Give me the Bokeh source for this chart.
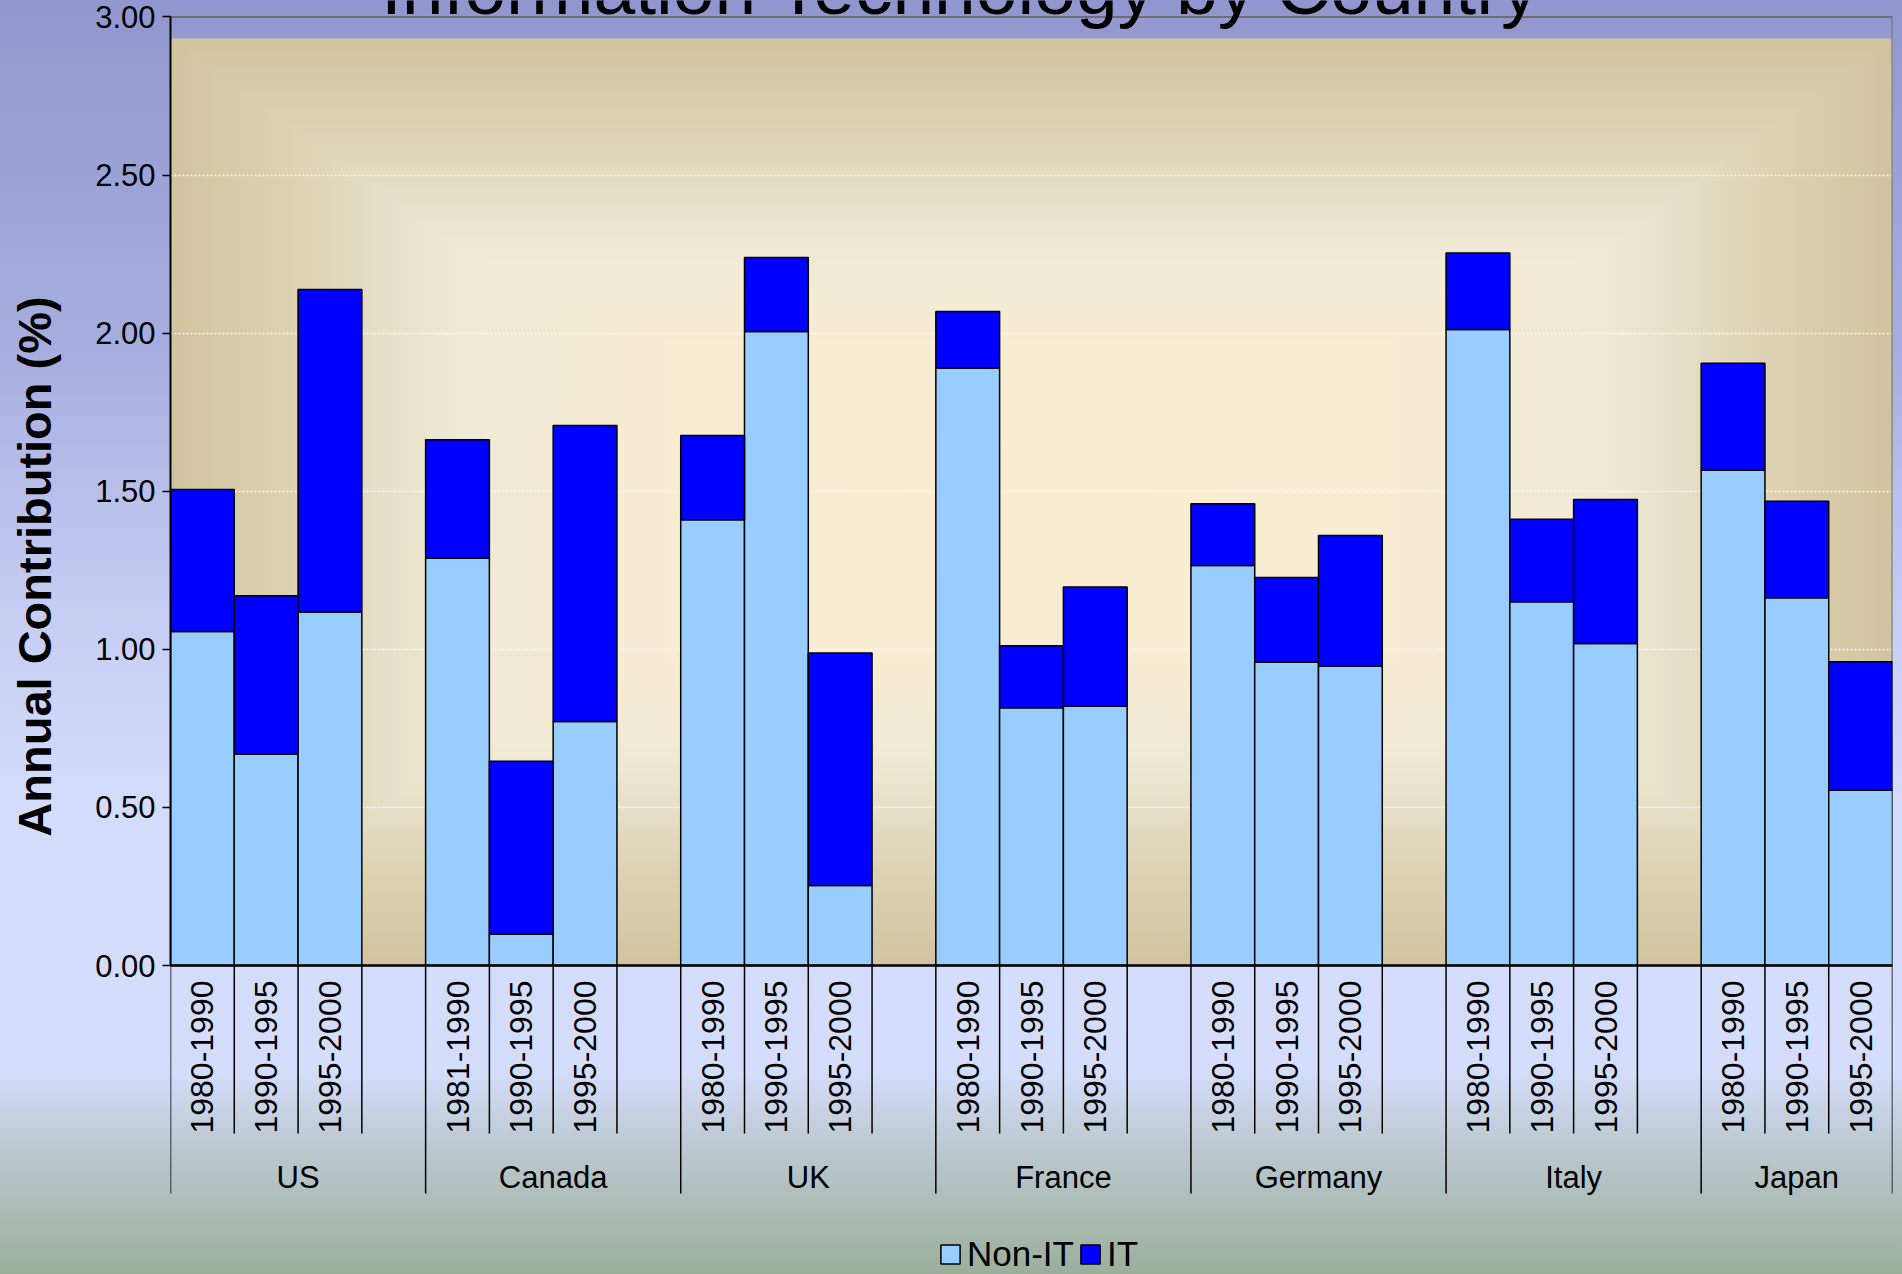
import numpy as np
from bokeh.plotting import figure
from bokeh.layouts import row
from bokeh.models import (ColumnDataSource, FixedTicker, NumeralTickFormatter, Range1d,
                          Legend, LegendItem, InlineStyleSheet)
from bokeh.core.properties import value
from bokeh.embed import file_html
from bokeh.resources import INLINE

# ---------------- data ----------------
countries = ["US", "Canada", "UK", "France", "Germany", "Italy", "Japan"]
periods = [
    ["1980-1990", "1990-1995", "1995-2000"],
    ["1981-1990", "1990-1995", "1995-2000"],
    ["1980-1990", "1990-1995", "1995-2000"],
    ["1980-1990", "1990-1995", "1995-2000"],
    ["1980-1990", "1990-1995", "1995-2000"],
    ["1980-1990", "1990-1995", "1995-2000"],
    ["1980-1990", "1990-1995", "1995-2000"],
]
non_it = [1.056, 0.669, 1.118,
          1.289, 0.100, 0.772,
          1.410, 2.005, 0.253,
          1.890, 0.815, 0.821,
          1.265, 0.959, 0.947,
          2.011, 1.150, 1.018,
          1.567, 1.163, 0.555]
it = [0.449, 0.500, 1.020,
      0.374, 0.546, 0.936,
      0.266, 0.234, 0.735,
      0.178, 0.196, 0.376,
      0.195, 0.268, 0.413,
      0.242, 0.261, 0.456,
      0.338, 0.305, 0.406]
y_ticks = [0.0, 0.5, 1.0, 1.5, 2.0, 2.5, 3.0]
series_labels = ["Non-IT", "IT"]
series_colors = ["#99CCFF", "#0000FF"]
title_text = "Information Technology by Country"
y_title = "Annual Contribution (%)"

# ---------------- layout helpers (page pixels) ----------------
TOTAL_W, H = 1902, 1274
LW = 80                      # narrow strip holding the vertical axis title
W = TOTAL_W - LW
FRAME_LEFT_PAGE = 170
FRAME_RIGHT_PAGE = 1892
Y0_PAGE = 965.0
PX_PER_UNIT = 316.2
FONT = "Liberation Sans"

xs, labels_flat, group_starts = [], [], []
pos = 0
for g, per in enumerate(periods):
    group_starts.append(pos)
    for lab in per:
        xs.append(pos + 0.5)
        labels_flat.append(lab)
        pos += 1
    if g < len(periods) - 1:
        pos += 1
n_slots = pos
slot_px = (FRAME_RIGHT_PAGE - FRAME_LEFT_PAGE) / n_slots


def ydata(page_y):
    return (Y0_PAGE - page_y) / PX_PER_UNIT


def xdata(page_x):
    return (page_x - FRAME_LEFT_PAGE) / slot_px


css = (":host { background: linear-gradient(to bottom, "
       "#9197CE 0px, #A7AEDF 350px, #C4CCF3 600px, #D4DCFC 800px, "
       "#D4DDFB 1070px, #BBC8CF 1150px, #9CAF9B 1274px); }")

y_range = Range1d(ydata(H), ydata(0))

p = figure(width=W, height=H, output_backend="svg", toolbar_location=None, title=None,
           x_range=Range1d(0, n_slots), y_range=y_range,
           x_axis_location=None, y_axis_location="left",
           min_border_left=FRAME_LEFT_PAGE - LW, min_border_right=TOTAL_W - FRAME_RIGHT_PAGE,
           min_border_top=0, min_border_bottom=0)
p.border_fill_color = None
p.background_fill_color = None
p.outline_line_color = None
p.stylesheets = [InlineStyleSheet(css=css)]

# plot area rectangular gradient
ny, nx = 300, 560
yy = (np.arange(ny) + 0.5) / ny
xx = (np.arange(nx) + 0.5) / nx
tx = np.interp(np.abs(xx - 0.5) * 2, [0, 0.67, 1.0], [0, 0.55, 1.0])
ty = np.abs(yy - 0.5) * 2
T = np.maximum(tx[None, :], ty[:, None])
st = [0.0, 0.35, 0.55, 0.70, 0.82, 1.0]
sc = [(251, 236, 209), (248, 236, 211), (240, 234, 213), (228, 220, 194), (220, 209, 176), (210, 196, 160)]
img = np.empty((ny, nx), dtype=np.uint32)
v = img.view(dtype=np.uint8).reshape((ny, nx, 4))
for k in range(3):
    v[..., k] = np.interp(T, st, [c[k] for c in sc]).astype(np.uint8)
v[..., 3] = 255
p.image_rgba(image=[img], x=0, y=0, dw=n_slots, dh=ydata(38), level="image")

# grid
p.xgrid.visible = False
p.ygrid.ticker = FixedTicker(ticks=[t for t in y_ticks if 0 < t < 3])
p.ygrid.grid_line_color = "white"
p.ygrid.grid_line_alpha = 0.9
p.ygrid.grid_line_width = 1.5
p.ygrid.grid_line_dash = "2 2"

# y axis
ya = p.yaxis[0]
ya.ticker = FixedTicker(ticks=y_ticks)
ya.formatter = NumeralTickFormatter(format="0.00")
ya.bounds = (y_ticks[0], y_ticks[-1])
ya.axis_line_color = "black"
ya.axis_line_width = 2
ya.major_tick_line_color = "black"
ya.major_tick_line_width = 1.5
ya.major_tick_out = 8
ya.major_tick_in = 0
ya.minor_tick_line_color = None
ya.major_label_text_font = FONT
ya.major_label_text_font_size = "31px"
ya.major_label_text_color = "black"
ya.major_label_standoff = 7

# plot border (top and right)
top = y_ticks[-1]
p.line(x=[0, n_slots, n_slots], y=[top, top, 0], line_color="#6E6E6E", line_width=2)

# bars
src = ColumnDataSource(dict(x=xs, non_it=non_it, it=it))
rs = p.vbar_stack(["non_it", "it"], x="x", width=1.0, source=src,
                  fill_color=series_colors, line_color="black", line_width=1.5)

# x axis line
p.line(x=[0, n_slots], y=[0, 0], line_color="black", line_width=2.5)

# category separators
long_x = group_starts + [n_slots]
short_x = [s for s in range(n_slots + 1) if s not in long_x]
p.segment(x0=short_x, y0=0, x1=short_x, y1=ydata(1133), line_color="black", line_width=1.5)
p.segment(x0=long_x, y0=0, x1=long_x, y1=ydata(1193), line_color="black", line_width=1.5)

# period labels
p.text(x=xs, y=ydata(980), text=labels_flat, angle=np.pi / 2, text_align="right",
       text_baseline="middle", text_font=value(FONT), text_font_size="32px", text_color="black")

# country labels
ends = group_starts[1:] + [n_slots]
cx = [(a + b) / 2 for a, b in zip(group_starts, ends)]
p.text(x=cx, y=ydata(1177), text=countries, text_align="center", text_baseline="middle",
       text_font=value(FONT), text_font_size="31px", text_color="black")

# chart title (cut at the top, as in the original)
p.text(x=[xdata(960)], y=[ydata(29)], text=[title_text], text_align="center",
       text_baseline="bottom", text_font=value(FONT), text_font_size="75px", text_color="black")

# legend
legend = Legend(items=[LegendItem(label=series_labels[0], renderers=[rs[0]]),
                       LegendItem(label=series_labels[1], renderers=[rs[1]])],
                orientation="horizontal", location=(938 - FRAME_LEFT_PAGE, 0),
                glyph_width=24, glyph_height=24, label_standoff=5, spacing=4,
                padding=0, margin=0, border_line_color=None, background_fill_color=None,
                label_text_font=FONT, label_text_font_size="35px", label_text_color="black")
p.add_layout(legend)

# narrow left strip with the vertical axis title
t = figure(width=LW, height=H, output_backend="svg", toolbar_location=None, title=None,
           x_range=Range1d(0, LW), y_range=y_range, x_axis_location=None, y_axis_location=None,
           min_border_left=0, min_border_right=0, min_border_top=0, min_border_bottom=0)
t.border_fill_color = None
t.background_fill_color = None
t.outline_line_color = None
t.grid.visible = False
t.stylesheets = [InlineStyleSheet(css=css)]
t.text(x=[34], y=[ydata(566)], text=[y_title], angle=np.pi / 2, text_align="center",
       text_baseline="middle", text_font=value(FONT), text_font_size="47px",
       text_font_style="bold", text_color="black")

layout = row(t, p, spacing=0)
open("out.html", "w").write(file_html(layout, INLINE))
